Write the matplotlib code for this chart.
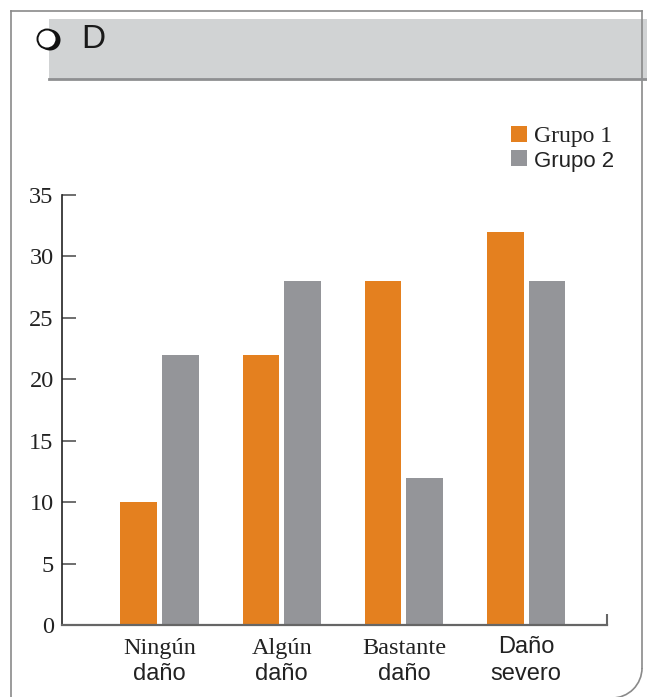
import numpy as np
import matplotlib
matplotlib.use("Agg")
import matplotlib.pyplot as plt
from matplotlib.patches import Rectangle, Circle, Arc

# data
cat_top = ["Ningún", "Algún", "Bastante", "Daño"]
cat_bottom = ["daño", "daño", "daño", "severo"]
grupo1 = [10, 22, 28, 32]
grupo2 = [22, 28, 12, 28]
series_names = ["Grupo 1", "Grupo 2"]
yticks = [0, 5, 10, 15, 20, 25, 30, 35]

ORANGE = "#E4801F"
GREY = "#949599"
SERIF = "Liberation Serif"
SANS = "Liberation Sans"

W, H = 647, 697
fig = plt.figure(figsize=(W / 100, H / 100), dpi=100)

# page decoration layer in pixel coords
deco = fig.add_axes([0, 0, 1, 1])
deco.set_xlim(0, W)
deco.set_ylim(H, 0)
deco.axis("off")
frame_c = "#8a8a8a"
deco.plot([11, 11], [11, H + 5], color=frame_c, lw=1.2)
deco.plot([11, 642], [11, 11], color=frame_c, lw=1.2)
deco.plot([642, 642], [11, 668], color=frame_c, lw=1.2)
deco.add_patch(Arc((612, 668), 60, 60, theta1=0, theta2=90, color=frame_c, lw=1.2))
deco.add_patch(Rectangle((49, 19), W - 49, 60, facecolor="#D1D3D4", edgecolor="none"))
deco.plot([49, W], [79, 79], color="#8E8F91", lw=2)
deco.add_patch(Circle((50, 40), 10.5, facecolor="#111111", edgecolor="none"))
deco.add_patch(Circle((47, 39), 9.5, facecolor="white", edgecolor="#111111", lw=1.4))
deco.text(81, 40, "D", fontsize=24, family=SANS, color="#1a1a1a", va="center", ha="left")

# chart
ax = fig.add_axes([62 / W, (H - 625) / H, 545 / W, 430 / H])
x = np.arange(len(cat_top))
w = 0.30
off = 0.17
ax.bar(x - off, grupo1, w, color=ORANGE, label=series_names[0], zorder=2)
ax.bar(x + off, grupo2, w, color=GREY, label=series_names[1], zorder=2)

ax.set_xlim(-0.798, 3.662)
ax.set_ylim(0, 35)
ax.set_yticks(yticks)
ax.set_yticklabels([str(v) for v in yticks], family=SERIF, fontsize=17.5, color="#222222")
ax.tick_params(axis="y", direction="in", length=10, width=1.2, color="#555555", pad=6)
ax.set_xticks([])
ax.set_xticks([3.662], minor=True)
ax.tick_params(axis="x", which="minor", direction="in", length=8, width=1.5, color="#666666")
ax.set_xticklabels([], minor=True)

for s in ["top", "right"]:
    ax.spines[s].set_visible(False)
ax.spines["left"].set_color("#222222")
ax.spines["left"].set_linewidth(1.2)
ax.spines["bottom"].set_color("#666666")
ax.spines["bottom"].set_linewidth(1.6)

tr = ax.get_xaxis_transform()
for xi, t1, t2 in zip(x, cat_top, cat_bottom):
    if t1 == "Daño":
        ax.text(xi, -0.052, t1, transform=tr, ha="center", va="center",
                family=SANS, fontsize=17, color="#222222")
    else:
        ax.text(xi, -0.054, t1, transform=tr, ha="center", va="center",
                family=SERIF, fontsize=17.5, color="#222222")
    ax.text(xi, -0.114, t2, transform=tr, ha="center", va="center",
            family=SANS, fontsize=17, color="#222222")

leg = ax.legend(loc="upper left", bbox_to_anchor=(511 / W, 1 - 126 / H),
                bbox_transform=fig.transFigure, frameon=False, fontsize=17,
                handlelength=0.68, handleheight=0.68, handletextpad=0.3,
                labelspacing=0.12, borderpad=0, borderaxespad=0)
leg.get_texts()[0].set_fontfamily(SERIF)
leg.get_texts()[1].set_fontfamily(SANS)
leg.get_texts()[1].set_fontsize(16)
for t in leg.get_texts():
    t.set_color("#222222")

fig.savefig("out.png", dpi=100)
